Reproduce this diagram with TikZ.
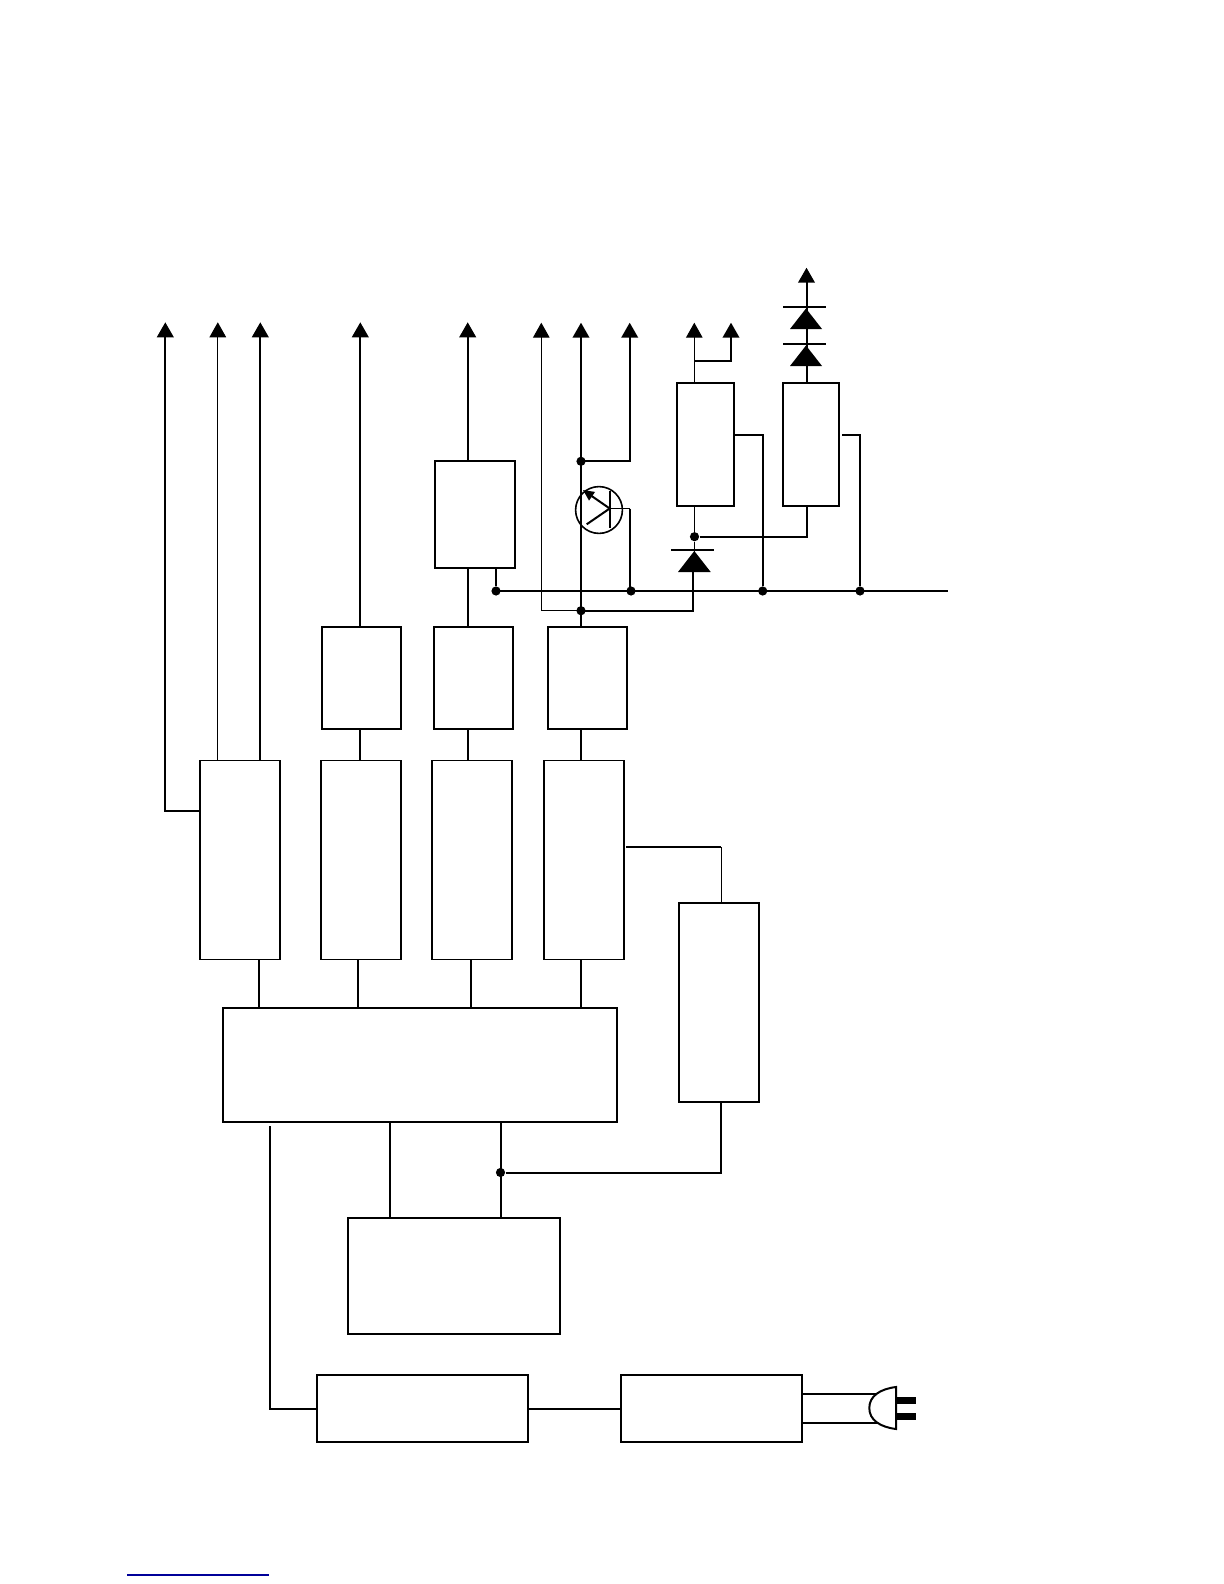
\documentclass[tikz,border=0pt]{standalone}
\usepackage{xcolor}
\usetikzlibrary{calc,arrows.meta}
\tikzset{
  blockbox/.style={draw, line width=1pt, inner sep=0pt, outer sep=0pt},
  tallbox/.style={blockbox, line width=0.8pt, minimum width=40pt, minimum height=99.5pt},
  rowbox/.style={blockbox, minimum width=39.5pt, minimum height=51.25pt},
  wire/.style={line width=1pt},
  thinwire/.style={line width=0.5pt},
  tipwire/.style={wire, -{Triangle[width=8.3pt,length=7.5pt]}},
  thintipwire/.style={thinwire, -{Triangle[width=8.3pt,length=7.5pt]}},
  joint/.style={circle, fill=black, inner sep=0pt, minimum size=4.6pt},
}
\begin{document}
\begin{tikzpicture}[x=0.5pt,y=-0.5pt]
\useasboundingbox (0,0) rectangle (1224,1584);
% blocks
\node[blockbox, minimum width=28.5pt, minimum height=61.5pt] (regA) at (705.5,444.5) {};
\node[blockbox, minimum width=28pt, minimum height=61.5pt] (regB) at (811,444.5) {};
\node[blockbox, minimum width=40pt, minimum height=53.5pt] (filterbox) at (474.5,514.5) {};
\node[rowbox] (rowA) at (361.5,677.75) {};
\node[rowbox] (rowB) at (473.5,677.75) {};
\node[rowbox] (rowC) at (587.25,677.75) {};
\node[tallbox] (tallA) at (240,860) {};
\node[tallbox] (tallB) at (361,860) {};
\node[tallbox] (tallC) at (472,860) {};
\node[tallbox] (tallD) at (584,860) {};
\node[tallbox, line width=1pt] (sidebox) at (718.5,1002.5) {};
\node[blockbox, minimum width=197pt, minimum height=56.75pt] (mainbox) at (420,1064.75) {};
\node[blockbox, minimum width=106pt, minimum height=58pt] (auxbox) at (454.25,1276) {};
\node[blockbox, minimum width=105.5pt, minimum height=33.25pt] (rectbox) at (422.5,1408.5) {};
\node[blockbox, minimum width=90.5pt, minimum height=33.25pt] (linebox) at (711.5,1408.5) {};
% joints
\node[joint] (busA) at (496,591) {};
\node[joint] (busB) at (631,591) {};
\node[joint] (busC) at (762.7,591) {};
\node[joint] (busD) at (860,591) {};
\node[joint] (railA) at (581,461.3) {};
\node[joint] (railB) at (581,610.7) {};
\node[joint] (gateA) at (694.5,536.7) {};
\node[joint] (feedA) at (500.5,1172.5) {};
% free ends
\coordinate (tipA) at (165.3,322.3); \coordinate (tipB) at (217.8,322.3); \coordinate (tipC) at (260.3,322.3);
\coordinate (tipD) at (360.3,322.3); \coordinate (tipE) at (467.7,322.3); \coordinate (tipF) at (541.3,322.7);
\coordinate (tipG) at (581,322.7); \coordinate (tipH) at (629.7,322.7); \coordinate (tipI) at (694.3,322.7);
\coordinate (tipJ) at (731,322.7); \coordinate (tipK) at (806.5,267.7);
\coordinate (busEnd) at (947.7,591);
\coordinate (base) at (609.7,508.5);
\coordinate (tapA) at (200,810.7);
\coordinate (tapB) at (626,847);
\coordinate (tapC) at (734,434.7);
\coordinate (tapD) at (842.3,434.7);
\coordinate (tapE) at (269.7,1126);
\coordinate (sideTop) at (721,847);
% outputs
\draw[tipwire] (tapA) -| (tipA);
\draw[thintipwire] (tallA.north -| tipB) -- (tipB);
\draw[tipwire] (tallA.north -| tipC) -- (tipC);
\draw[tipwire] (rowA.north -| tipD) -- (tipD);
\draw[tipwire] (filterbox.north -| tipE) -- (tipE);
\draw[thintipwire] (railB.center) -| (tipF);
\draw[tipwire] (rowC.north -| tipG) -- (tipG);
\draw[tipwire] (railA.center) -| (tipH);
\draw[thintipwire] (regA.north -| tipI) -- (tipI);
\draw[tipwire] (694.3,360.7) -| (tipJ);
\draw[tipwire] (regB.north -| tipK) -- (tipK);
% bus
\draw[wire] (busA.center) -- (busEnd);
\draw[wire] (filterbox.south -| busA) -- (busA);
\draw[wire] (tapC) -| (busC);
\draw[wire] (tapD) -| (busD);
\draw[wire] (regB.south -| tipK) |- (gateA);
\draw[thinwire] (regA.south -| gateA) -- (gateA);
\draw[wire] (railB.center) -| (693,572);
\draw[thinwire] (gateA) -- (694.5,552);
\draw[thinwire] (base) -- (tipH |- base);
\draw[wire] (tipH |- base) -- (tipH |- busB);
% diodes
\foreach \barY in {307,344} {
  \draw[wire] (783,\barY) -- (825.7,\barY);
  \fill (806,\barY+1.5) -- (822,\barY+22) -- (790,\barY+22) -- cycle;
}
\draw[wire] (671,550) -- (713.7,550);
\fill (694.3,551) -- (710.7,572) -- (678,572) -- cycle;
% transistor
\draw[line width=0.8pt] (599,510) circle (11.7pt);
\draw[wire] (609.7,491) -- (609.7,528);
\draw[wire, -{Triangle[width=5pt,length=5.5pt]}] (base) -- (583,490);
\draw[wire] (base) -- (586.7,524.3);
% between the blocks
\draw[wire] (tallB.north -| tipD) -- (rowA.south -| tipD);
\draw[wire] (tallC.north -| tipE) -- (rowB.south -| tipE);
\draw[wire] (tallD.north -| tipG) -- (rowC.south -| tipG);
\draw[wire] (rowB.north -| tipE) -- (filterbox.south -| tipE);
\draw[wire] (mainbox.north -| 258.5,0) -- (tallA.south -| 258.5,0);
\draw[wire] (mainbox.north -| 357.5,0) -- (tallB.south -| 357.5,0);
\draw[wire] (mainbox.north -| 470.6,0) -- (tallC.south -| 470.6,0);
\draw[wire] (mainbox.north -| tipG) -- (tallD.south -| tipG);
\draw[wire] (tapB) -- (sideTop);
\draw[thinwire] (sideTop) -- (sidebox.north -| sideTop);
\draw[wire] (sidebox.south -| sideTop) |- (feedA);
\draw[wire] (mainbox.south -| feedA) -- (auxbox.north -| feedA);
\draw[wire] (mainbox.south -| 390,0) -- (auxbox.north -| 390,0);
\draw[wire] (tapE) |- (rectbox.west);
\draw[wire] (rectbox.east) -- (linebox.west);
% plug
\draw[wire] (linebox.east |- 0,1393.7) -- (880,1393.7);
\draw[wire] (linebox.east |- 0,1422.7) -- (880,1422.7);
\draw[wire, fill=white] (896,1387) .. controls (880,1389) and (869.3,1396) .. (869.3,1408) .. controls (869.3,1420) and (880,1427) .. (896,1429) -- cycle;
\fill (896,1397.3) rectangle (916,1404);
\fill (896,1412.7) rectangle (916,1419.7);
% rule at the foot of the page
\draw[blue!60!black, line width=0.8pt] (127,1575) -- (268.7,1575);
\end{tikzpicture}
\end{document}
